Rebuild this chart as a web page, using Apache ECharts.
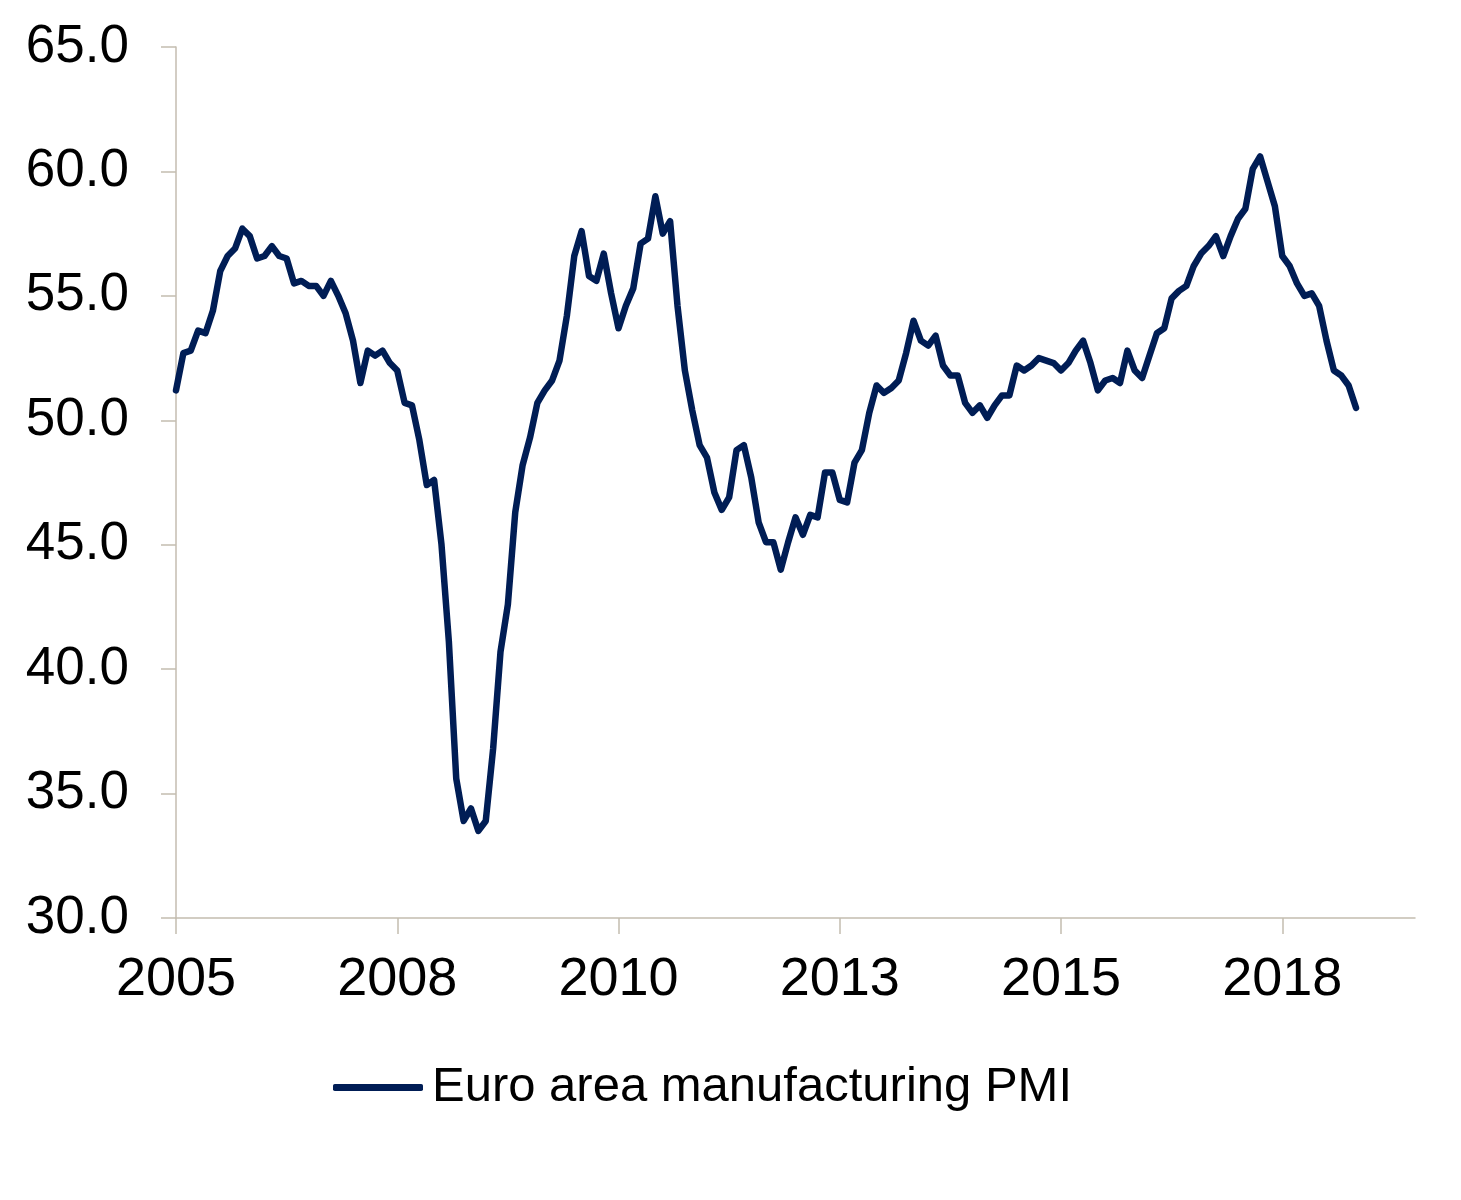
<!DOCTYPE html>
<html>
<head>
<meta charset="utf-8">
<script src="https://cdn.jsdelivr.net/npm/echarts@6/dist/echarts.min.js"></script>
<style>
html,body{margin:0;padding:0;background:#fff;}
#chart{width:1461px;height:1200px;}
</style>
</head>
<body>
<div id="chart"></div>
<script>
// Monthly Euro area manufacturing PMI, Sep 2005 - Jan 2019
const pmi2005 = [51.2, 52.7, 52.8, 53.6]; // Sep-Dec
const pmi2006 = [53.5, 54.4, 56.0, 56.6, 56.9, 57.7, 57.4, 56.5, 56.6, 57.0, 56.6, 56.5];
const pmi2007 = [55.5, 55.6, 55.4, 55.4, 55.0, 55.6, 55.0, 54.3, 53.2, 51.5, 52.8, 52.6];
const pmi2008 = [52.8, 52.3, 52.0, 50.7, 50.6, 49.2, 47.4, 47.6, 45.0, 41.1, 35.6, 33.9];
const pmi2009 = [34.4, 33.5, 33.9, 36.8, 40.7, 42.6, 46.3, 48.2, 49.3, 50.7, 51.2, 51.6];
const pmi2010 = [52.4, 54.2, 56.6, 57.6, 55.8, 55.6, 56.7, 55.1, 53.7, 54.6, 55.3, 57.1];
const pmi2011 = [57.3, 59.0, 57.5, 58.0, 54.6, 52.0, 50.4, 49.0, 48.5, 47.1, 46.4, 46.9];
const pmi2012 = [48.8, 49.0, 47.7, 45.9, 45.1, 45.1, 44.0, 45.1, 46.1, 45.4, 46.2, 46.1];
const pmi2013 = [47.9, 47.9, 46.8, 46.7, 48.3, 48.8, 50.3, 51.4, 51.1, 51.3, 51.6, 52.7];
const pmi2014 = [54.0, 53.2, 53.0, 53.4, 52.2, 51.8, 51.8, 50.7, 50.3, 50.6, 50.1, 50.6];
const pmi2015 = [51.0, 51.0, 52.2, 52.0, 52.2, 52.5, 52.4, 52.3, 52.0, 52.3, 52.8, 53.2];
const pmi2016 = [52.3, 51.2, 51.6, 51.7, 51.5, 52.8, 52.0, 51.7, 52.6, 53.5, 53.7, 54.9];
const pmi2017 = [55.2, 55.4, 56.2, 56.7, 57.0, 57.4, 56.6, 57.4, 58.1, 58.5, 60.1, 60.6];
const pmi2018 = [59.6, 58.6, 56.6, 56.2, 55.5, 55.0, 55.1, 54.6, 53.2, 52.0, 51.8, 51.4];
const pmi2019 = [50.5]; // Jan

const seriesName = 'Euro area manufacturing PMI';
const yTicks = { min: 30, max: 65, step: 5 };
const startYear = 2005, startMonth = 9, endYear = 2019, endMonth = 9; // axis span
const labelEveryMonths = 30;

// axis categories (months)
const categories = [];
for (let y = startYear, m = startMonth; y < endYear || (y === endYear && m <= endMonth); ) {
  categories.push(y + '-' + String(m).padStart(2, '0'));
  m++; if (m > 12) { m = 1; y++; }
}
const values = [].concat(pmi2005, pmi2006, pmi2007, pmi2008, pmi2009, pmi2010, pmi2011,
  pmi2012, pmi2013, pmi2014, pmi2015, pmi2016, pmi2017, pmi2018, pmi2019);

const axisColor = '#c4bdb0';
const lineColor = '#001d55';
const font = '"Liberation Sans", Arial, sans-serif';
const showEvery = (idx) => idx % labelEveryMonths === 0 && idx < categories.length - 1;

const chart = echarts.init(document.getElementById('chart'), null, { renderer: 'canvas' });
chart.setOption({
  backgroundColor: '#ffffff',
  animation: false,
  grid: { left: 176, right: 46, top: 47, bottom: 282, containLabel: false },
  legend: {
    data: [{ name: seriesName, icon: 'roundRect' }],
    left: 333, top: 1063,
    padding: 0,
    itemWidth: 90, itemHeight: 7,
    textStyle: { fontFamily: font, fontSize: 49, color: '#000', padding: [0, 0, 0, 4] }
  },
  xAxis: {
    type: 'category',
    data: categories,
    boundaryGap: false,
    axisLine: { show: true, lineStyle: { color: axisColor, width: 1.5 } },
    axisTick: { show: true, interval: showEvery, length: 16, lineStyle: { color: axisColor, width: 1.5 } },
    axisLabel: {
      interval: showEvery,
      hideOverlap: false,
      margin: 35,
      fontFamily: font, fontSize: 54, color: '#000',
      formatter: v => v.slice(0, 4)
    },
    splitLine: { show: false }
  },
  yAxis: {
    type: 'value',
    min: yTicks.min, max: yTicks.max, interval: yTicks.step,
    axisLine: { show: true, lineStyle: { color: axisColor, width: 1.5 } },
    axisTick: { show: true, length: 15, lineStyle: { color: axisColor, width: 1.5 } },
    axisLabel: {
      margin: 47,
      fontFamily: font, fontSize: 53, color: '#000',
      formatter: v => v.toFixed(1)
    },
    splitLine: { show: false }
  },
  series: [{
    name: seriesName,
    type: 'line',
    data: values,
    symbol: 'none',
    showSymbol: false,
    lineStyle: { color: lineColor, width: 6.5, join: 'round', cap: 'round' },
    itemStyle: { color: lineColor }
  }]
});
</script>
</body>
</html>
